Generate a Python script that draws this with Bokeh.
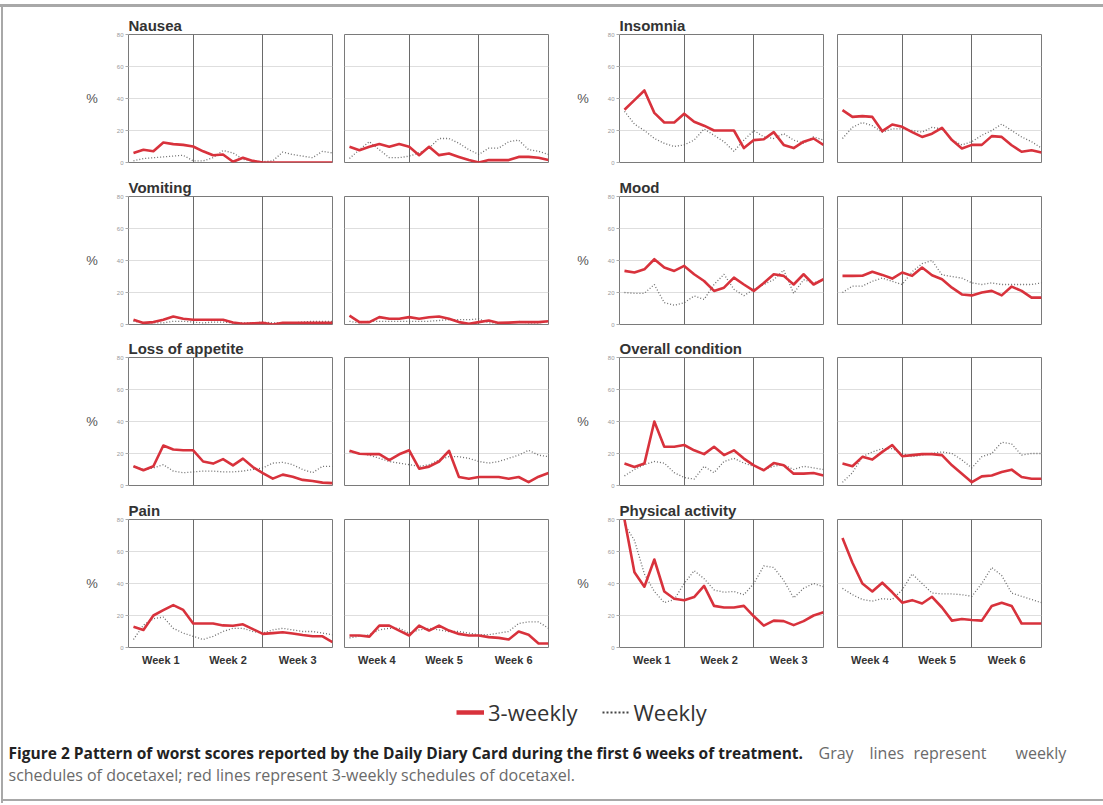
from bokeh.plotting import figure
from bokeh.layouts import row, column
from bokeh.models import FixedTicker, Spacer, Legend, LegendItem, Label, Range1d, Grid
from bokeh.embed import file_html
from bokeh.resources import INLINE

# ---------------- data (percent of patients, days 1..42) ----------------
days = list(range(1, 43))
week_names = ["Week 1", "Week 2", "Week 3", "Week 4", "Week 5", "Week 6"]
y_ticks = [0, 20, 40, 60, 80]
series_names = ["3-weekly", "Weekly"]

nausea_3w = [6, 8, 7, 12.5, 11.5, 11, 10, 7, 4.5, 5, 0.5, 3, 1, 0, 0, 0, 0, 0, 0, 0, 0,
             9.8, 7.7, 9.8, 11.5, 9.8, 11.5, 9.8, 4.6, 9.8, 4.6, 5.6, 3.5, 1.5, 0, 1.5, 1.5, 1.5, 3.5, 3.5, 3, 1.5]
nausea_w = [1, 2.5, 3, 3.5, 4, 4.5, 1, 1, 3, 7.5, 6, 2, 1, 0.5, 1, 6.5, 5, 4, 3, 7, 6,
            2.5, 8, 13, 8, 3, 3, 4, 6, 9, 15, 15, 12, 8, 5, 9, 9, 13, 14, 8, 7, 5]

insomnia_3w = [33, 39, 45, 31, 25, 25, 30.5, 25.5, 23, 20, 20, 20, 9, 14, 14.5, 19, 11, 9, 13, 15, 11,
               32.7, 28.5, 29, 28.5, 19.6, 23.75, 22.3, 19, 16, 18, 21.7, 14, 8.75, 11, 11, 16.5, 16, 10.8, 6.7, 7.7, 6.25]
insomnia_w = [32, 24, 20, 15, 12, 10, 11, 14, 21, 17, 13, 7, 14, 20, 16, 15, 18, 14, 12, 16, 14,
              15, 22, 25, 23, 19, 21, 21, 20, 19, 22, 21, 14, 11, 13, 17, 20, 24, 20, 16, 13, 9]

vomiting_3w = [3, 1, 1.5, 3, 5, 3.6, 3, 3, 3, 3, 1.2, 0.5, 0.7, 1, 0, 1, 1, 1, 1, 1, 1,
               5.5, 1.5, 1.5, 4.6, 3.6, 3.6, 4.6, 3.6, 4.5, 5, 3.6, 1.5, 0.4, 1.5, 2.5, 1, 1.2, 1.5, 1.5, 1.5, 2]
vomiting_w = [2, 1, 1, 1, 2, 2, 1.5, 1, 1.5, 1.5, 1, 1, 1, 1.5, 1, 1, 1, 1.5, 2, 2, 2,
              2, 1, 2, 2, 2, 2, 2, 2, 2, 2.5, 3, 3, 3, 3.5, 1, 1, 1, 2, 1, 1, 2]

mood_3w = [33.5, 32.5, 34.5, 40.8, 35.6, 33.5, 36.6, 31.4, 27.2, 21, 23, 29.3, 25, 21, 26, 31.4, 30.4, 25, 31.4, 25, 28.3,
           30.4, 30.4, 30.5, 33, 31, 28.7, 32.5, 30.4, 35.6, 30.8, 28.3, 23, 18.8, 18.2, 20, 21, 18.2, 23.7, 21, 16.8, 16.8]
mood_w = [20, 19.5, 19.5, 25, 13.6, 12, 13.6, 17.8, 15.7, 25, 31.4, 22, 18, 22, 25, 28, 34, 19.5, 28, 26, 28,
          20, 24, 24, 27, 29, 27, 25, 33, 38, 40, 31, 30, 29, 26, 25, 26, 25, 25, 25, 25, 26]

appetite_3w = [12, 9.5, 12, 25, 22.5, 22, 22, 15, 13.7, 16.5, 12.6, 16.8, 11.5, 7.8, 4.3, 6.8, 5.5, 3.5, 2.8, 1.8, 1.5,
               21.7, 19.8, 19.6, 19.6, 15.8, 19.5, 22, 10.5, 11.8, 15, 21.7, 5.3, 4.2, 5.3, 5.3, 5.3, 4.2, 5.3, 2.1, 5.5, 7.8]
appetite_w = [12, 10, 11, 13, 9, 8, 8.5, 9, 9, 8.5, 8.5, 9, 10, 11, 14, 14.5, 13, 10, 8, 12, 12,
              21, 20, 19, 17, 15, 14, 13, 12, 13, 16, 18, 18, 17, 15, 14, 15, 17, 19, 22, 19, 18]

overall_3w = [13.7, 11.6, 13.7, 40, 24.2, 24.2, 25.3, 22, 19.6, 24.2, 19, 22, 16.8, 12.6, 9.5, 14, 12.6, 7.4, 7.4, 7.8, 6.3,
              13.7, 12, 17.9, 16.2, 21, 25.3, 18.3, 19, 19.6, 19.6, 19, 12.6, 7.4, 2.1, 5.7, 6.3, 8.4, 9.9, 5.3, 4.2, 4.2]
overall_w = [6, 10, 13, 15, 14, 8, 5, 4, 12, 8, 15, 17, 14, 12, 10, 12, 13, 10, 12, 11, 10,
             2, 8, 18, 21, 23, 23, 20, 18, 19, 20, 21, 20, 16, 11, 18, 20, 27, 26, 19, 20, 20]

pain_3w = [13, 11, 20, 23.3, 26.5, 23.5, 15, 15, 15, 13.8, 13.6, 14.5, 11.5, 8.5, 9, 9.5, 8.8, 7.8, 7, 7, 3.3,
           7.5, 7.5, 6.8, 13.7, 13.7, 10.6, 7.5, 13.7, 10.6, 13.7, 10.6, 8.5, 7.5, 7.5, 6.5, 6, 5, 10, 8, 2.5, 2.5]
pain_w = [5, 14, 18, 19, 12, 9, 7, 5, 7, 10, 12, 12, 10, 9, 11, 12, 11, 10, 10, 9, 8,
          6, 7, 8, 11, 12, 12, 9, 11, 12, 11, 10, 10, 9, 8, 8, 9, 10, 15, 16, 16, 12]

activity_3w = [80, 47, 38, 55, 35, 30.5, 29.5, 31.5, 38.5, 26, 25, 25, 26, 19.5, 13.7, 16.8, 16.5, 14, 16.5, 20, 22,
               68.5, 53, 40, 35, 40.5, 34.5, 28, 29.6, 27.5, 31.7, 25, 16.8, 17.8, 17.2, 16.8, 26, 28, 26, 15, 15, 15]
activity_w = [77, 67, 46, 35, 28, 30, 40, 48, 43, 36, 34.5, 35, 33, 40, 51, 50, 42, 31, 37, 40, 38,
              37, 33, 30, 29, 30.5, 30, 36, 46, 40, 34, 33.5, 33.5, 33, 32, 40, 50, 45, 34, 32, 30, 28]

left_panels = [("Nausea", nausea_3w, nausea_w),
               ("Vomiting", vomiting_3w, vomiting_w),
               ("Loss of appetite", appetite_3w, appetite_w),
               ("Pain", pain_3w, pain_w)]
right_panels = [("Insomnia", insomnia_3w, insomnia_w),
                ("Mood", mood_3w, mood_w),
                ("Overall condition", overall_3w, overall_w),
                ("Physical activity", activity_3w, activity_w)]

# ---------------- styling ----------------
RED = "#d8323c"
DOT = "#555555"
FONT = "Liberation Sans"
FRAME_W, FRAME_H = 204, 128
border_lr = [(125, 6), (6, 11), (60, 7), (7, 62)]   # per sub-plot column
border_top = [27, 30, 30, 31]
border_bottom = [4, 3, 3, 24]


def make_sub(title, red, gray, half, colidx, rowidx):
    first = half == 0
    last_row = rowidx == 3
    lo, hi = (0.5, 21) if half == 0 else (21.5, 42)
    seps = [7, 14] if half == 0 else [28, 35]
    centers = [3.75, 10.5, 17.5] if half == 0 else [24.75, 31.5, 38.5]
    bl, br = border_lr[colidx * 2 + half]
    p = figure(frame_width=FRAME_W, frame_height=FRAME_H,
               x_range=Range1d(lo, hi), y_range=Range1d(0, 80),
               output_backend="svg", toolbar_location=None,
               min_border_left=bl, min_border_right=br,
               min_border_top=border_top[rowidx], min_border_bottom=border_bottom[rowidx],
               x_axis_location="below" if last_row else None,
               y_axis_location="left" if first else None,
               title=title if first else None)
    p.background_fill_color = "white"
    p.border_fill_color = "white"
    p.outline_line_color = "#7a7a7a"
    p.outline_line_width = 1
    p.xgrid.grid_line_color = None
    p.ygrid.grid_line_color = None
    p.add_layout(Grid(dimension=1, ticker=FixedTicker(ticks=[20, 40, 60]),
                      grid_line_color="#dedede", grid_line_width=1))
    p.add_layout(Grid(dimension=0, ticker=FixedTicker(ticks=seps),
                      grid_line_color="#6a6a6a", grid_line_width=1))
    if first:
        p.title.text_font = FONT
        p.title.text_font_size = "15px"
        p.title.text_font_style = "bold"
        p.title.text_color = "#333333"
        p.title.align = "left"
        p.title.offset = 0
        p.title.standoff = 2
        ax = p.yaxis[0]
        ax.ticker = FixedTicker(ticks=y_ticks)
        ax.major_label_text_font = FONT
        ax.major_label_text_font_size = "6px"
        ax.major_label_text_color = "#999999"
        ax.major_label_standoff = 2
        ax.major_tick_out = 3
        ax.major_tick_in = 0
        ax.major_tick_line_color = "#aaaaaa"
        ax.minor_tick_line_color = None
        ax.axis_line_color = None
        ax.axis_label = "%"
        ax.axis_label_text_font = FONT
        ax.axis_label_text_font_size = "13px"
        ax.axis_label_text_font_style = "normal"
        ax.axis_label_text_color = "#555555"
        ax.axis_label_standoff = 16
        ax.axis_label_orientation = "horizontal"
    if last_row:
        xa = p.xaxis[0]
        xa.ticker = FixedTicker(ticks=centers)
        labels = week_names[0:3] if half == 0 else week_names[3:6]
        xa.major_label_overrides = {c: l for c, l in zip(centers, labels)}
        xa.major_label_text_font = FONT
        xa.major_label_text_font_size = "11px"
        xa.major_label_text_font_style = "bold"
        xa.major_label_text_color = "#333333"
        xa.major_label_standoff = 6
        xa.major_tick_out = 0
        xa.major_tick_in = 0
        xa.minor_tick_line_color = None
        xa.axis_line_color = None
    sl = slice(0, 21) if half == 0 else slice(21, 42)
    xs = days[sl]
    p.line(xs, gray[sl], line_color=DOT, line_width=1.3, line_dash="1 2", line_alpha=0.85)
    p.line(xs, red[sl], line_color=RED, line_width=2.6, line_join="round")
    return p


rows = []
for r in range(4):
    figs = []
    for c, panels in enumerate([left_panels, right_panels]):
        name, red, gray = panels[r]
        for h in range(2):
            figs.append(make_sub(name, red, gray, h, c, r))
    rows.append(row(*figs, spacing=0))

# ---------------- legend and caption ----------------
lp = figure(frame_width=1100, frame_height=123, x_range=Range1d(0, 1100), y_range=Range1d(0, 123),
            output_backend="svg", toolbar_location=None, min_border=0,
            x_axis_location=None, y_axis_location=None)
lp.outline_line_color = None
lp.grid.visible = False
lp.background_fill_color = "white"
lp.border_fill_color = "white"
# legend-only renderers (their points lie outside the visible range)
r1 = lp.line([-20, -10], [-20, -20], line_color=RED, line_width=4.5)
r2 = lp.line([-20, -10], [-20, -20], line_color="#444444", line_width=2, line_dash="2 2")
legend = Legend(items=[LegendItem(label=series_names[0], renderers=[r1]),
                       LegendItem(label=series_names[1], renderers=[r2])],
                orientation="horizontal", location=(453, 67),
                glyph_width=28, glyph_height=20, label_height=20, label_standoff=4, spacing=24,
                padding=0, margin=0, border_line_color=None, background_fill_alpha=0,
                label_text_font="Open Sans", label_text_font_size="22px", label_text_color="#333333")
lp.add_layout(legend)

cap_bold = "Figure 2 Pattern of worst scores reported by the Daily Diary Card during the first 6 weeks of treatment."
cap_rest_words = [("Gray", 815), ("lines", 866), ("represent", 910), ("weekly", 1012)]
cap_line2 = "schedules of docetaxel; red lines represent 3-weekly schedules of docetaxel."
lp.add_layout(Label(x=5, y=42, text=cap_bold, text_font="Open Sans", text_font_size="15.5px",
                    text_font_style="bold", text_color="#222222", text_baseline="middle"))
for w, xw in cap_rest_words:
    lp.add_layout(Label(x=xw, y=42, text=w, text_font="Open Sans", text_font_size="16px",
                        text_color="#6a6a6a", text_baseline="middle"))
lp.add_layout(Label(x=5, y=20, text=cap_line2, text_font="Open Sans", text_font_size="16px",
                    text_color="#6a6a6a", text_baseline="middle"))

LINE = "#a8a8a8"
content = column(*rows, lp, Spacer(width=1100, height=5, margin=0),
                 Spacer(width=1100, height=2, margin=0, styles={"background-color": LINE}), spacing=0)
body = row(Spacer(width=1, height=796, margin=0),
           Spacer(width=2, height=796, margin=0, styles={"background-color": LINE}),
           content, spacing=0)
page = column(Spacer(width=1103, height=4, margin=0),
              Spacer(width=1103, height=3, margin=0, styles={"background-color": LINE}),
              body, spacing=0)

open("out.html", "w").write(file_html(page, INLINE))
